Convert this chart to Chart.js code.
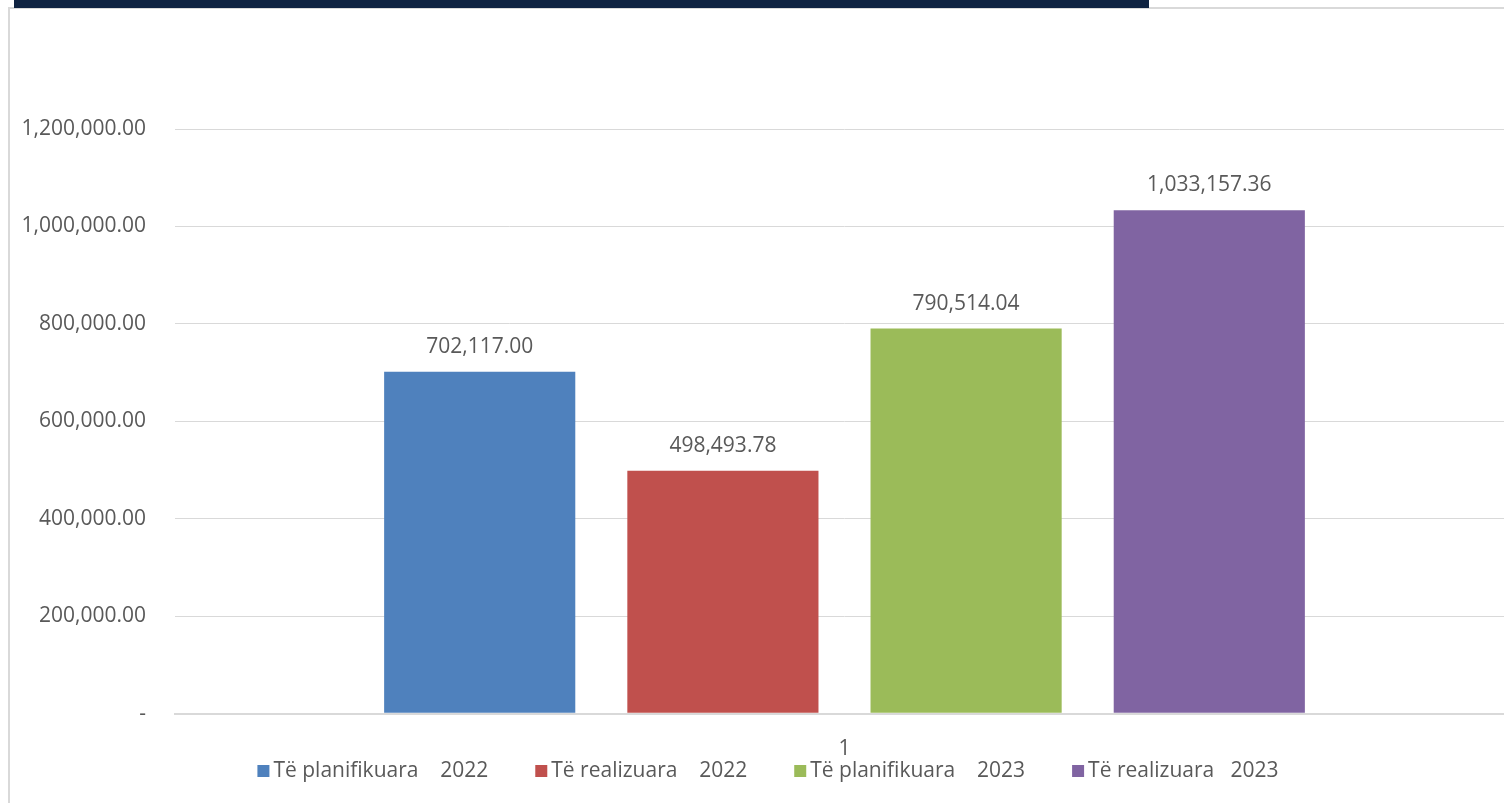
<!DOCTYPE html>
<html>
<head>
<meta charset="utf-8">
<script src="https://cdn.jsdelivr.net/npm/chart.js@4"></script>
<style>
  html, body { margin: 0; padding: 0; background: #fff; }
  body { width: 1504px; height: 803px; position: relative; overflow: hidden; }
  .frame { position: absolute; left: 8px; top: 7px; width: 1520px; height: 820px; border: 2px solid #d9d9d9; }
  .header { position: absolute; left: 14px; top: 0; width: 1135px; height: 8px; background: #0f2341; }
  .wrap { position: absolute; left: 10px; top: 9px; width: 1504px; height: 794px; }
</style>
</head>
<body>
<div class="frame"></div>
<div class="header"></div>
<div class="wrap"><canvas id="chart"></canvas></div>
<script>
const categories = ["1"];
const seriesNames = ["Të planifikuara    2022", "Të realizuara    2022", "Të planifikuara    2023", "Të realizuara   2023"];
const seriesValues = [702117.00, 498493.78, 790514.04, 1033157.36];
const seriesColors = ["#4f81bd", "#c0504d", "#9bbb59", "#8064a2"];
const yTicks = [0, 200000, 400000, 600000, 800000, 1000000, 1200000];

const fmt = v => v.toLocaleString("en-US", { minimumFractionDigits: 2, maximumFractionDigits: 2 });
const textColor = "#595959";
const fontFamily = "'Open Sans', sans-serif";

// value labels on top of the bars
const barLabels = {
  id: "barLabels",
  afterDatasetsDraw(chart) {
    const ctx = chart.ctx;
    ctx.save();
    ctx.font = "21px " + fontFamily;
    ctx.fillStyle = textColor;
    ctx.textAlign = "center";
    ctx.textBaseline = "middle";
    chart.data.datasets.forEach((ds, i) => {
      chart.getDatasetMeta(i).data.forEach((bar, j) => {
        ctx.fillText(fmt(ds.data[j]), bar.x, bar.y - 25);
      });
    });
    ctx.restore();
  }
};

// legend drawn by hand: small square, short gap, wide spacing between items
const bottomLegend = {
  id: "bottomLegend",
  afterDraw(chart) {
    const ctx = chart.ctx;
    const box = 12, gap = 4, spacing = 47;
    ctx.save();
    ctx.font = "21px " + fontFamily;
    ctx.textBaseline = "middle";
    ctx.textAlign = "left";
    const widths = chart.data.datasets.map(ds => box + gap + ctx.measureText(ds.label).width);
    const total = widths.reduce((a, b) => a + b, 0) + spacing * (widths.length - 1);
    let x = chart.width / 2 + 6 - total / 2;
    const y = chart.height - 32;
    chart.data.datasets.forEach((ds, i) => {
      ctx.fillStyle = ds.backgroundColor;
      ctx.fillRect(x, y - box / 2, box, box);
      ctx.fillStyle = textColor;
      ctx.fillText(ds.label, x + box + gap, y);
      x += widths[i] + spacing;
    });
    ctx.restore();
  }
};

const data = {
  labels: categories,
  datasets: seriesNames.map((name, i) => ({
    label: name,
    data: [seriesValues[i]],
    backgroundColor: seriesColors[i],
    categoryPercentage: 0.7265,
    barPercentage: 0.786
  }))
};

const config = {
  type: "bar",
  data: data,
  plugins: [barLabels, bottomLegend],
  options: {
    responsive: true,
    maintainAspectRatio: false,
    animation: false,
    layout: { padding: { top: 120, right: 0, bottom: 26, left: 0 } },
    plugins: {
      legend: { display: false },
      tooltip: { enabled: false }
    },
    scales: {
      x: {
        grid: { display: false },
        border: { color: "#d9d9d9", width: 2 },
        ticks: { color: textColor, font: { size: 21, family: fontFamily }, padding: 15 }
      },
      y: {
        min: 0,
        max: 1200000,
        afterFit(scale) { scale.width = 165; },
        afterBuildTicks(scale) { scale.ticks = yTicks.map(v => ({ value: v })); },
        grid: {
          color: "#d9d9d9",
          lineWidth: c => (c.tick && c.tick.value === 0 ? 2 : 1),
          drawTicks: false
        },
        border: { display: false },
        ticks: {
          color: textColor,
          padding: 29,
          font: { size: 21, family: fontFamily },
          callback: v => (v === 0 ? "-" : fmt(v))
        }
      }
    }
  }
};

let myChart = new Chart(document.getElementById("chart"), config);
</script>
</body>
</html>
